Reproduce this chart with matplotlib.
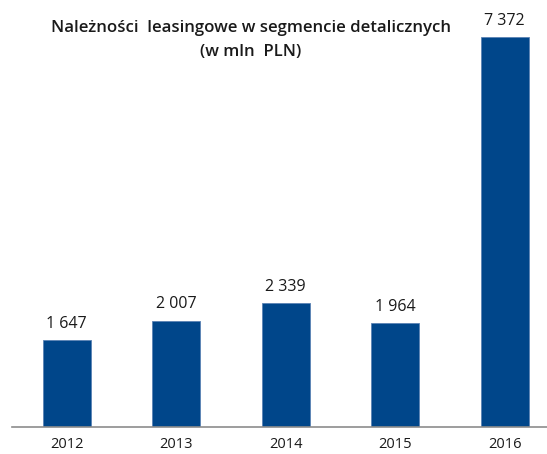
import matplotlib.pyplot as plt

years = ['2012', '2013', '2014', '2015', '2016']
values = [1647, 2007, 2339, 1964, 7372]
value_labels = ['1 647', '2 007', '2 339', '1 964', '7 372']

plt.rc('font', family='Open Sans')

fig = plt.figure(figsize=(5.47, 4.54), dpi=100)
ax = fig.add_axes([12 / 547, 27 / 454, 535 / 547, 427 / 454])

x = range(len(years))
ax.bar(x, values, width=0.44, color='#00468a', edgecolor='#5b82b4', linewidth=0.6)
for i, v in enumerate(values):
    ax.annotate(value_labels[i], (i, v), xytext=(0, 6), textcoords='offset points',
                ha='center', va='bottom', fontsize=11.5, color='#1a1a1a')

ax.set_xlim(-0.5, 4.386)
ax.set_ylim(0, 8071)
ax.set_xticks(list(x))
ax.set_xticklabels(years, fontsize=10.5, color='#1a1a1a')
ax.tick_params(axis='x', length=0, pad=7)
ax.set_yticks([])
for s in ['top', 'right', 'left']:
    ax.spines[s].set_visible(False)
ax.spines['bottom'].set_color('#8c8c8c')
ax.spines['bottom'].set_linewidth(1.2)

fig.text(251 / 547, 1 - 40 / 454, 'Należności  leasingowe w segmencie detalicznych\n(w mln  PLN)',
         ha='center', va='center', fontsize=12.1, fontweight='semibold', linespacing=1.6, color='#1a1a1a')

fig.savefig('out.png', dpi=100)
